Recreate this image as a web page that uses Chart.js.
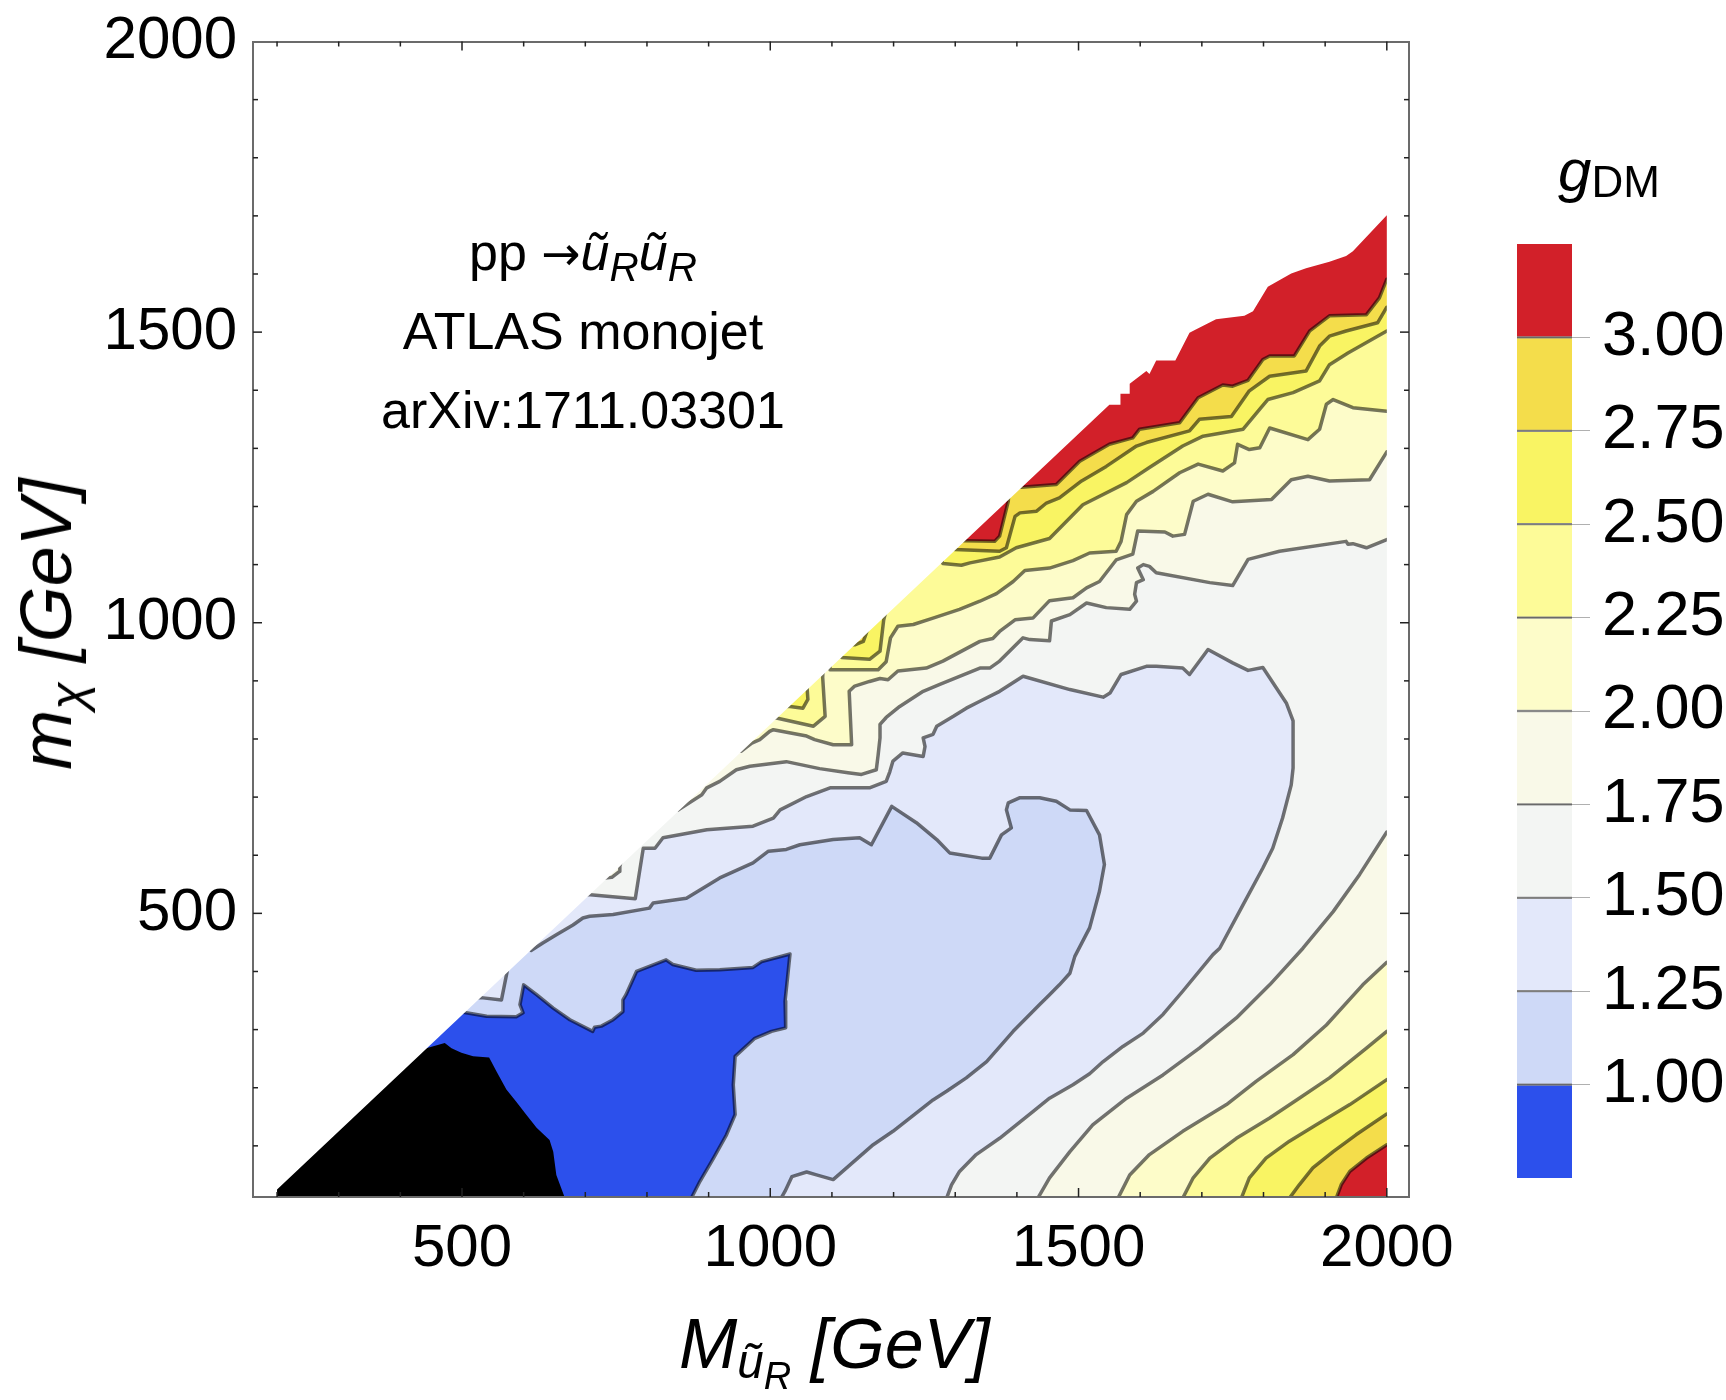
<!DOCTYPE html>
<html>
<head>
<meta charset="utf-8">
<script src="https://cdn.jsdelivr.net/npm/chart.js@4.4.1/dist/chart.umd.min.js"></script>
<style>
  html, body { margin: 0; padding: 0; background: #fff; }
  #wrap { position: relative; width: 1726px; height: 1400px; overflow: hidden;
          font-family: "Liberation Sans", Arial, sans-serif; color: #000; }
  canvas { position: absolute; top: 0; }
  .lbl { position: absolute; white-space: nowrap; line-height: 1; }
  .lbl sub { vertical-align: baseline; position: relative; font-size: 0.7em; top: 0.28em; }
  .note { left: 283px; width: 600px; text-align: center; font-size: 52px; }
  .arrow { font-family: "DejaVu Sans", sans-serif; font-size: 0.9em; }
</style>
</head>
<body>
<div id="wrap">
  <canvas id="plot" width="1726" height="1400" style="left:0"></canvas>
  <canvas id="bar" width="246" height="1400" style="left:1480px"></canvas>

  <div class="lbl note" style="top:226px">pp <span class="arrow">&#8594;</span><i>ũ</i><sub style="font-size:0.78em"><i>R</i></sub><i>ũ</i><sub style="font-size:0.78em"><i>R</i></sub></div>
  <div class="lbl note" style="top:305px">ATLAS monojet</div>
  <div class="lbl note" style="top:384px">arXiv:1711.03301</div>

  <div class="lbl" style="left:46px; top:624px; font-size:72px; transform:translate(-50%,-50%) rotate(-90deg)"><i>m<sub>χ</sub> [GeV]</i></div>
  <div class="lbl" style="left:679px; top:1309px; font-size:70px"><i>M</i><sub style="font-size:0.68em;top:0.2em"><i>ũ</i><sub style="font-size:0.8em;top:0.3em"><i>R</i></sub></sub><i> [GeV]</i></div>
  <div class="lbl" style="left:1558px; top:141px; font-size:60px"><i>g</i><span style="font-size:44px;position:relative;top:6px">DM</span></div>
</div>

<script>
// ===== DATA (GeV) =====
const xTicks = [500, 1000, 1500, 2000];
const yTicks = [500, 1000, 1500, 2000];
const xFrameTicks = [200, 300, 400, 500, 600, 700, 800, 900, 1000, 1100, 1200, 1300, 1400, 1500, 1600, 1700, 1800, 1900, 2000];
const yFrameTicks = [100, 200, 300, 400, 500, 600, 700, 800, 900, 1000, 1100, 1200, 1300, 1400, 1500, 1600, 1700, 1800, 1900];

// colour bar: band edges in g_DM and one colour per band (lowest first)
const barEdges = [0.75, 1.0, 1.25, 1.5, 1.75, 2.0, 2.25, 2.5, 2.75, 3.0, 3.25];
const barTicks = [1.0, 1.25, 1.5, 1.75, 2.0, 2.25, 2.5, 2.75, 3.0];
const bandColors = ['#2c50ec', '#ced9f7', '#e3e8fa', '#f3f5f3', '#f9f9e8',
                    '#fdfcc9', '#fdfb98', '#f9f463', '#f4dd4b', '#d22029'];

// scanned region: M from scanStartM, lower-left edge m_chi = M - diagOffset
const scanStartM = 200;
const diagOffset = 175;
// jagged upper edge of the scanned region near M = 2000
const domainTop = [[1550,1375],[1568,1375],[1568,1394],[1583,1394],[1583,1411],[1610,1433],[1615,1428],
  [1626,1451],[1657,1451],[1680,1499],[1691,1505],[1723,1522],[1769,1528],[1783,1536],[1807,1578],
  [1845,1601],[1869,1610],[1907,1621],[1934,1631],[1945,1639],[2000,1701]];

// excluded (black) region edge, from the diagonal down to the M axis
const blackEdge = [[442,268],[472,277],[483,268],[499,260],[518,254],[544,252],[556,228],[572,197],
  [588,176],[604,154],[621,131],[642,110],[648,90],[653,50],[667,10]];

// contour lines [M, m_chi]; each level: pieces starting on the diagonal, then the
// branch that comes back from the right edge (Low) when there is one
const contour100 = [[[502,330],[540,323],[588,322],[599,329],[594,343],[600,377],[621,360],[648,337],
  [675,317],[712,297],[715,304],[726,306],[745,317],[761,331],[761,351],[766,360],[783,400],[831,420],
  [842,412],[880,402],[918,403],[972,407],[986,417],[1032,430],[1028,389],[1024,349],[1025,303],
  [1002,297],[975,285],[943,254],[940,205],[943,154],[929,119],[908,79],[886,39],[872,10]]];

const contour125 = [[[531,355],[564,351],[573,399]],
  [[612,436],[631,449],[653,463],[680,480],[696,492],[707,495],[745,498],[804,509],[810,518],[864,526],
  [918,561],[972,587],[997,607],[1026,610],[1048,618],[1102,627],[1145,630],[1164,618],[1197,684],
  [1237,656],[1270,627],[1291,604],[1343,595],[1356,595],[1375,635],[1391,647],[1383,678],[1386,690],
  [1405,699],[1437,699],[1464,693],[1486,678],[1513,677],[1534,635],[1542,584],[1534,538],[1518,475],
  [1494,426],[1486,397],[1469,377],[1453,360],[1437,343],[1394,297],[1351,245],[1318,217],[1286,194],
  [1264,179],[1199,125],[1167,102],[1102,42],[1075,50],[1059,55],[1035,47],[1024,22],[1016,7]]];

const contour150 = [[[708,532],[781,525],[794,612],[813,612],[826,630],[897,644],[972,650],[1005,664],
  [1016,678],[1059,701],[1097,716],[1161,716],[1188,727],[1194,744],[1199,762],[1215,776],[1248,770],
  [1251,787],[1248,802],[1264,808],[1270,822],[1297,839],[1318,853],[1340,865],[1372,882],[1410,908],
  [1486,885],[1540,872],[1551,879],[1569,911],[1610,925],[1626,925],[1669,922],[1680,911],[1710,954],
  [1750,931],[1775,918],[1799,923],[1837,862],[1848,831],[1848,750],[1845,721],[1831,664],[1815,612],
  [1799,578],[1767,515],[1729,440],[1718,429],[1669,366],[1637,326],[1605,294],[1572,271],[1540,245],
  [1518,224],[1491,205],[1453,182],[1426,159],[1372,113],[1334,85],[1307,56],[1294,33],[1286,10]]];

const contour175 = [[[732,561],[743,562],[755,572],[756,581]],
  [[851,678],[889,704],[897,716],[918,727],[945,747],[967,753],[1026,761],[1080,749],
  [1126,742],[1148,739],[1172,747],[1175,773],[1178,802],[1178,825],[1188,837],[1210,856],[1248,882],
  [1275,894],[1340,922],[1356,922],[1372,934],[1410,974],[1421,971],[1453,969],[1456,1003],[1486,1014],
  [1513,1034],[1545,1026],[1583,1023],[1594,1037],[1591,1049],[1594,1069],[1605,1074],[1596,1094],
  [1605,1100],[1615,1097],[1626,1086],[1713,1069],[1750,1064],[1775,1109],[1826,1123],[1934,1140],
  [1937,1135],[1945,1136],[1967,1129],[2000,1143]]];
const contour175Low = [[2000,640],[1956,567],[1913,503],[1864,440],[1810,377],[1756,320],[1696,268],
  [1637,222],[1578,182],[1523,136],[1486,90],[1453,45],[1434,10]];

const contour200 = [[[953,779],[970,793],[983,799],[999,813],[1005,816],[1059,805],[1072,799],[1102,790],
  [1132,790],[1128,882],[1137,891],[1161,899],[1178,904],[1191,902],[1207,917],[1253,922],[1280,934],
  [1340,968],[1361,973],[1372,985],[1397,1005],[1426,1008],[1453,1038],[1491,1043],[1513,1060],
  [1534,1071],[1561,1108],[1588,1118],[1596,1158],[1640,1156],[1653,1149],[1672,1152],[1686,1209],
  [1710,1221],[1750,1208],[1813,1212],[1845,1246],[1872,1252],[1907,1244],[1972,1246],[2000,1294]]];
const contour200Low = [[2000,416],[1961,377],[1902,308],[1848,257],[1788,211],[1740,171],[1669,125],
  [1615,85],[1583,50],[1564,10]];

const contour225 = [[[1010,836],[1070,822],[1089,839],[1085,906]],
  [[1097,919],[1175,919],[1188,933],[1195,974],[1207,994],[1232,997],[1264,1008],[1307,1023],[1340,1037],
  [1367,1050],[1394,1071],[1413,1090],[1453,1094],[1491,1107],[1518,1120],[1561,1123],[1569,1140],
  [1578,1186],[1594,1209],[1621,1226],[1664,1258],[1694,1273],[1734,1261],[1753,1275],[1758,1307],
  [1777,1298],[1794,1301],[1810,1335],[1872,1315],[1891,1333],[1902,1376],[1913,1384],[1945,1370],
  [2000,1364]]];
const contour225Low = [[2000,297],[1967,268],[1907,217],[1858,182],[1810,148],[1756,113],[1713,79],
  [1686,45],[1669,10]];

const contour250 = [[[1032,856],[1053,853],[1061,868],[1059,899]],
  [[1116,940],[1161,937],[1178,951],[1184,1005]],
  [[1280,1102],[1310,1099],[1324,1103],[1372,1113],[1399,1129],[1453,1145],[1507,1203],[1578,1241],
  [1615,1267],[1669,1304],[1702,1321],[1767,1333],[1796,1370],[1807,1384],[1848,1396],[1891,1416],
  [1907,1444],[1937,1464],[2000,1502]]];
const contour250Low = [[2000,214],[1940,171],[1885,136],[1842,108],[1804,79],[1777,45],[1764,10]];

const contour275 = [[[1137,962],[1151,968],[1155,980]],
  [[1299,1126],[1372,1123],[1383,1129],[1397,1183],[1405,1189],[1432,1192],[1448,1206],[1469,1215],
  [1505,1244],[1545,1269],[1594,1304],[1610,1310],[1680,1330],[1696,1350],[1748,1355],[1777,1399],
  [1810,1424],[1869,1433],[1891,1476],[1907,1493],[1934,1502],[1985,1516],[2000,1543]]];
const contour275Low = [[2000,155],[1950,119],[1913,90],[1880,62],[1858,33],[1842,10]];

const contour300 = [[[1316,1141],[1364,1140],[1372,1149],[1386,1209]],
  [[1407,1233],[1464,1238],[1502,1278],[1550,1307],[1588,1318],[1599,1333],[1664,1344],[1694,1387],
  [1734,1409],[1750,1407],[1775,1417],[1799,1453],[1810,1459],[1850,1459],[1875,1502],[1907,1528],
  [1967,1530],[1988,1559],[2000,1591]]];
const contour300Low = [[2000,102],[1967,79],[1940,56],[1926,33],[1918,10]];

// ===== AXES =====
const X_MIN = 161, X_MAX = 2036, Y_MIN = 12, Y_MAX = 2000;
// helper values outside the plotted window, used to close the filled regions
const OUT_L = 100, OUT_R = 2090, END_X = 2100, BELOW = -20;

const FONT = 'Liberation Sans';
const LINE = 'rgba(0,0,0,0.54)';

// region g < level: follow the contour, hop over the diagonal between pieces,
// run round the right edge to the returning branch, then drop below the axis
function regionPoints(pieces, lower) {
  const pts = [{ x: OUT_L, y: pieces[0][0][1] + 5 }];
  pieces.forEach((piece, i) => {
    if (i > 0) {
      const prev = pieces[i - 1][pieces[i - 1].length - 1];
      const mid = (prev[0] + piece[0][0]) / 2;
      pts.push({ x: mid, y: mid - diagOffset + 150 });
    }
    piece.forEach(([x, y]) => pts.push({ x, y }));
  });
  if (lower) {
    pts.push({ x: OUT_R, y: pts[pts.length - 1].y });
    pts.push({ x: OUT_R, y: lower[0][1] });
    lower.forEach(([x, y]) => pts.push({ x, y }));
  }
  pts.push({ x: pts[pts.length - 1].x, y: BELOW });
  pts.push({ x: END_X, y: BELOW });
  return pts;
}

const regions = [
  [contour300, contour300Low],
  [contour275, contour275Low],
  [contour250, contour250Low],
  [contour225, contour225Low],
  [contour200, contour200Low],
  [contour175, contour175Low],
  [contour150, null],
  [contour125, null],
  [contour100, null]
];

const datasets = [];
// everything above 3.00
datasets.push({
  data: [{ x: OUT_L, y: Y_MAX + 100 }, { x: END_X, y: Y_MAX + 100 }],
  backgroundColor: bandColors[9], borderWidth: 0, fill: 'origin'
});
regions.forEach(([pieces, lower], k) => {
  datasets.push({
    data: regionPoints(pieces, lower),
    backgroundColor: bandColors[8 - k],
    borderColor: LINE, borderWidth: 3.5, fill: 'origin'
  });
});
// excluded region
datasets.push({
  data: [{ x: OUT_L, y: blackEdge[0][1] + 30 }]
    .concat(blackEdge.map(([x, y]) => ({ x, y })))
    .concat([{ x: blackEdge[blackEdge.length - 1][0] + 3, y: BELOW }, { x: END_X, y: BELOW }]),
  backgroundColor: '#000', borderWidth: 0, fill: 'origin'
});
// blank out what lies outside the scanned triangle
const lastTop = domainTop[domainTop.length - 1];
datasets.push({
  data: [{ x: OUT_L, y: BELOW * 5 }, { x: scanStartM, y: BELOW * 5 },
         { x: scanStartM, y: scanStartM - diagOffset }]
    .concat(domainTop.map(([x, y]) => ({ x, y })))
    .concat([{ x: lastTop[0] + 0.3, y: BELOW * 5 }, { x: END_X, y: BELOW * 5 }]),
  backgroundColor: '#fff', borderWidth: 0, fill: 'end'
});
datasets.forEach((d, i) => {
  d.order = -i;
  d.showLine = true;
  d.pointRadius = 0;
  d.borderJoinStyle = 'round';
});

const frameTicks = {
  id: 'frameTicks',
  afterDraw(chart) {
    const { ctx, chartArea: a, scales: { x, y } } = chart;
    ctx.save();
    ctx.strokeStyle = '#222';
    ctx.lineWidth = 1.5;
    const mark = (x1, y1, x2, y2) => { ctx.beginPath(); ctx.moveTo(x1, y1); ctx.lineTo(x2, y2); ctx.stroke(); };
    xFrameTicks.forEach(v => {
      const len = xTicks.includes(v) ? 9 : 5;
      const px = x.getPixelForValue(v);
      mark(px, a.bottom, px, a.bottom - len);
      mark(px, a.top, px, a.top + len);
    });
    yFrameTicks.forEach(v => {
      const len = yTicks.includes(v) ? 9 : 5;
      const py = y.getPixelForValue(v);
      mark(a.left, py, a.left + len, py);
      mark(a.right, py, a.right - len, py);
    });
    ctx.restore();
  }
};

const frameBorder = { color: '#6b6b6b', width: 2, z: 1 };
const tickFont = { family: FONT, size: 60 };
const plain = v => String(v);

new Chart(document.getElementById('plot'), {
  type: 'scatter',
  data: { datasets },
  options: {
    responsive: false,
    animation: false,
    events: [],
    layout: { padding: 0 },
    plugins: { legend: { display: false }, tooltip: { enabled: false } },
    scales: {
      x: {
        type: 'linear', position: 'bottom', min: X_MIN, max: X_MAX,
        grid: { display: false, drawTicks: false },
        border: frameBorder,
        ticks: { font: tickFont, color: '#000', padding: 16, autoSkip: false, maxRotation: 0, callback: plain },
        afterBuildTicks: s => { s.ticks = xTicks.map(v => ({ value: v })); },
        afterFit: s => { s.height = 203; }
      },
      y: {
        type: 'linear', position: 'left', min: Y_MIN, max: Y_MAX,
        grid: { display: false, drawTicks: false },
        border: frameBorder,
        ticks: { font: { family: FONT, size: 60, lineHeight: 0.8 }, color: '#000', padding: 16, autoSkip: false, callback: plain },
        afterBuildTicks: s => { s.ticks = yTicks.map(v => ({ value: v })); },
        afterFit: s => { s.width = 253; }
      },
      x2: {
        type: 'linear', position: 'top', min: X_MIN, max: X_MAX,
        grid: { display: false, drawTicks: false }, border: frameBorder,
        ticks: { display: false },
        afterFit: s => { s.height = 41.5; }
      },
      y2: {
        type: 'linear', position: 'right', min: Y_MIN, max: Y_MAX,
        grid: { display: false, drawTicks: false }, border: frameBorder,
        ticks: { display: false },
        afterFit: s => { s.width = 317; }
      }
    }
  },
  plugins: [frameTicks]
});

// ===== COLOUR BAR =====
new Chart(document.getElementById('bar'), {
  type: 'bar',
  data: {
    labels: [''],
    datasets: bandColors.map((c, i) => ({
      data: [[barEdges[i], barEdges[i + 1]]],
      backgroundColor: c,
      borderColor: 'rgba(0,0,0,0.45)',
      borderWidth: { top: i < bandColors.length - 1 ? 1.5 : 0, bottom: i > 0 ? 1.5 : 0, left: 0, right: 0 },
      borderSkipped: false,
      barPercentage: 1,
      categoryPercentage: 1,
      grouped: false
    }))
  },
  options: {
    responsive: false,
    animation: false,
    events: [],
    layout: { padding: { left: 37, top: 244, right: 0, bottom: 222 } },
    plugins: { legend: { display: false }, tooltip: { enabled: false } },
    scales: {
      x: { display: false },
      y: {
        position: 'right', min: barEdges[0], max: barEdges[barEdges.length - 1],
        grid: { drawOnChartArea: false, drawTicks: true, tickLength: 18, color: '#b0b0b0', lineWidth: 1 },
        border: { display: false },
        ticks: { font: { family: FONT, size: 63, lineHeight: 0.8 }, color: '#000', padding: 12, callback: v => v.toFixed(2) },
        afterBuildTicks: s => { s.ticks = barTicks.map(v => ({ value: v })); },
        afterFit: s => { s.width = 154; }
      }
    }
  }
});
</script>
</body>
</html>
